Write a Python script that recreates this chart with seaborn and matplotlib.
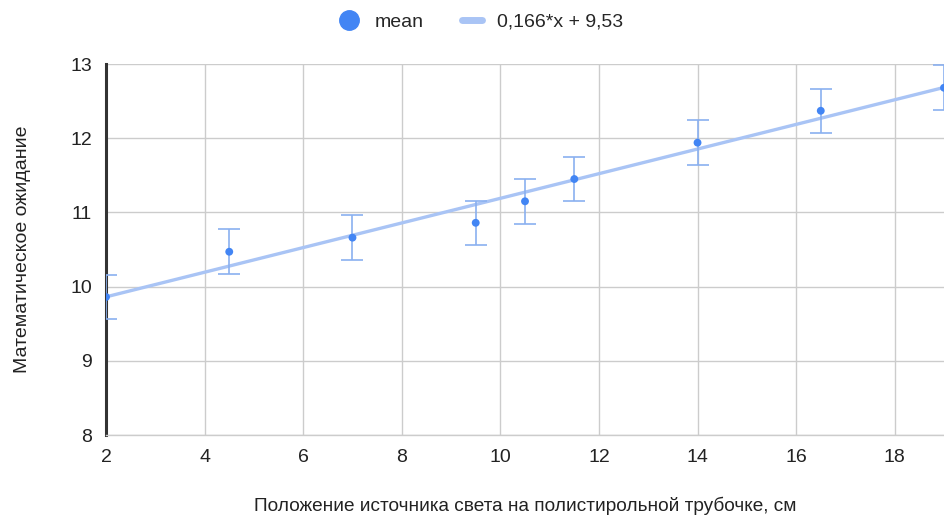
import matplotlib
matplotlib.use("Agg")
import matplotlib.pyplot as plt
import seaborn as sns
import numpy as np
import pandas as pd
from matplotlib.lines import Line2D

# Measured light-source positions and mean values
position_cm = [2, 4.5, 7, 9.5, 10.5, 11.5, 14, 16.5, 19]
mean_value = [9.86, 10.47, 10.66, 10.86, 11.15, 11.45, 11.94, 12.37, 12.68]
error_half = [0.3, 0.3, 0.3, 0.3, 0.3, 0.3, 0.3, 0.3, 0.3]

# Linear trend coefficients
slope = 0.166
intercept = 9.53

x_ticks = [2, 4, 6, 8, 10, 12, 14, 16, 18]
y_ticks = [8, 9, 10, 11, 12, 13]

sns.set_theme(style="white")
plt.rcParams["font.family"] = ["Liberation Sans", "DejaVu Sans"]

df = pd.DataFrame({"x": position_cm, "mean": mean_value, "err": error_half})
trend = pd.DataFrame({"x": [2, 19]})
trend["y"] = slope * trend["x"] + intercept

fig = plt.figure(figsize=(9.44, 5.15), dpi=100)
ax = fig.add_axes([0.1123, 0.1553, 0.8877, 0.7204])

point_color = "#4285F4"
trend_color = "#A9C4F5"
err_color = "#8AB0F0"

sns.lineplot(data=trend, x="x", y="y", ax=ax, color=trend_color, linewidth=2.4,
             legend=False, zorder=2)
ax.errorbar(df["x"], df["mean"], yerr=df["err"], fmt="none", ecolor=err_color,
            elinewidth=1.2, capsize=8, capthick=1.2, zorder=3)
sns.scatterplot(data=df, x="x", y="mean", ax=ax, color=point_color, s=32,
                edgecolor="none", legend=False, zorder=4)

ax.set_xlim(2, 19)
ax.set_ylim(8, 13)
ax.set_xticks(x_ticks)
ax.set_yticks(y_ticks)
ax.grid(True, color="#CCCCCC", linewidth=1.0)
ax.set_axisbelow(True)

for side in ["top", "right"]:
    ax.spines[side].set_visible(False)
ax.spines["left"].set_color("#333333")
ax.spines["left"].set_linewidth(2.2)
ax.spines["bottom"].set_color("#CCCCCC")
ax.spines["bottom"].set_linewidth(1.0)

ax.tick_params(axis="both", length=0, labelsize=14, colors="#222222")
ax.tick_params(axis="x", pad=10)
ax.tick_params(axis="y", pad=10)

ax.set_xlabel("Положение источника света на полистирольной трубочке, см",
              fontsize=13.7, color="#222222", labelpad=22)
ax.set_ylabel("Математическое ожидание", fontsize=14, color="#222222", labelpad=28)

handles = [
    Line2D([], [], marker="o", linestyle="none", markersize=14,
           markerfacecolor=point_color, markeredgecolor=point_color),
    Line2D([], [], color=trend_color, linewidth=5),
]
fig.legend(handles, ["mean", "0,166*x + 9,53"], loc="center",
           bbox_to_anchor=(0.51, 0.957), ncol=2, frameon=False, fontsize=14,
           handlelength=1.0, columnspacing=2.0, handletextpad=0.8)

fig.savefig("out.png", dpi=100, facecolor="white")
